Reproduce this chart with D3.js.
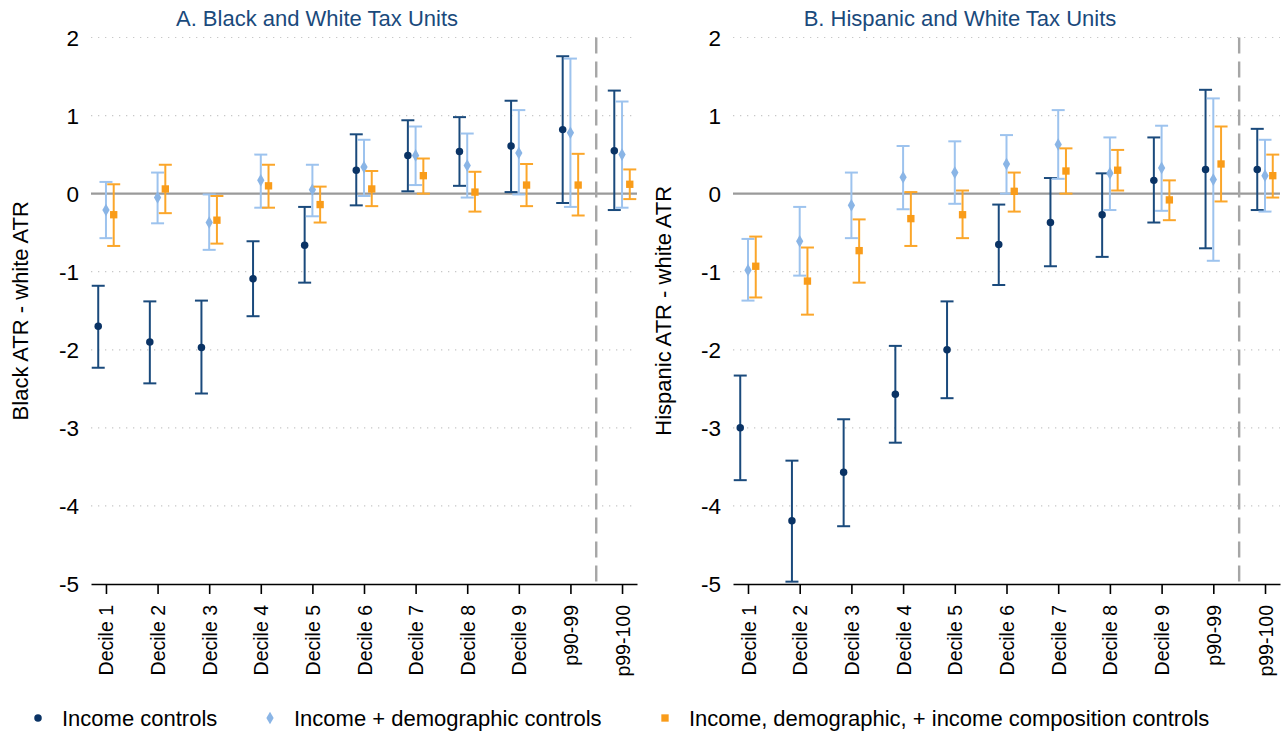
<!DOCTYPE html>
<html>
<head>
<meta charset="utf-8">
<script src="https://cdn.jsdelivr.net/npm/d3@7"></script>
<style>
  body { margin: 0; background: #fff; }
  svg text { font-family: "Liberation Sans", Arial, sans-serif; fill: #000; }
</style>
</head>
<body>
<svg id="chart" width="1286" height="732"></svg>
<script>
// categories on the x axis
const categories = ["Decile 1", "Decile 2", "Decile 3", "Decile 4", "Decile 5", "Decile 6",
  "Decile 7", "Decile 8", "Decile 9", "p90-99", "p99-100"];
const yTicks = [2, 1, 0, -1, -2, -3, -4, -5];

// Panel A: Black - white ATR
const blackInc   = [-1.70, -1.90, -1.97, -1.09, -0.66, 0.30, 0.49, 0.54, 0.61, 0.82, 0.55];
const blackIncLo = [-2.23, -2.43, -2.56, -1.57, -1.14, -0.15, 0.03, 0.10, 0.02, -0.12, -0.21];
const blackIncHi = [-1.18, -1.38, -1.37, -0.61, -0.17, 0.76, 0.94, 0.98, 1.19, 1.76, 1.32];
const blackDem   = [-0.21, -0.05, -0.37, 0.17, 0.05, 0.34, 0.49, 0.36, 0.52, 0.78, 0.50];
const blackDemLo = [-0.57, -0.38, -0.72, -0.18, -0.29, -0.03, 0.11, -0.05, -0.01, -0.17, -0.18];
const blackDemHi = [0.15, 0.27, -0.01, 0.50, 0.37, 0.69, 0.86, 0.77, 1.07, 1.73, 1.18];
const blackComp   = [-0.27, 0.06, -0.34, 0.10, -0.14, 0.06, 0.23, 0.02, 0.11, 0.11, 0.12];
const blackCompLo = [-0.67, -0.25, -0.64, -0.18, -0.37, -0.16, 0.00, -0.23, -0.16, -0.28, -0.07];
const blackCompHi = [0.12, 0.37, -0.03, 0.37, 0.09, 0.29, 0.45, 0.28, 0.38, 0.51, 0.31];

// Panel B: Hispanic - white ATR
const hispInc   = [-3.00, -4.19, -3.57, -2.57, -2.00, -0.65, -0.37, -0.27, 0.17, 0.31, 0.31];
const hispIncLo = [-3.67, -4.97, -4.26, -3.19, -2.62, -1.17, -0.93, -0.81, -0.37, -0.70, -0.21];
const hispIncHi = [-2.33, -3.42, -2.89, -1.95, -1.38, -0.14, 0.20, 0.26, 0.72, 1.33, 0.83];
const hispDem   = [-0.98, -0.61, -0.15, 0.21, 0.27, 0.38, 0.63, 0.26, 0.33, 0.18, 0.23];
const hispDemLo = [-1.37, -1.05, -0.57, -0.20, -0.13, 0.00, 0.19, -0.21, -0.22, -0.86, -0.23];
const hispDemHi = [-0.58, -0.17, 0.27, 0.61, 0.67, 0.75, 1.07, 0.72, 0.87, 1.22, 0.69];
const hispComp   = [-0.93, -1.12, -0.73, -0.32, -0.27, 0.03, 0.29, 0.30, -0.08, 0.38, 0.23];
const hispCompLo = [-1.33, -1.55, -1.14, -0.67, -0.57, -0.23, 0.00, 0.04, -0.34, -0.10, -0.05];
const hispCompHi = [-0.55, -0.69, -0.33, 0.02, 0.04, 0.27, 0.58, 0.56, 0.17, 0.86, 0.50];

const legendLabels = ["Income controls", "Income + demographic controls",
  "Income, demographic, + income composition controls"];

const seriesStyle = [
  { line: "#1a4a7c", fill: "#0a3365", shape: d3.symbolCircle, size: 44, off: -0.15 },
  { line: "#9dc3ee", fill: "#8ab5e6", shape: d3.symbolDiamond, size: 46, off: 0 },
  { line: "#fba62a", fill: "#f99c1a", shape: d3.symbolSquare, size: 54, off: 0.15 }
];

const svg = d3.select("#chart");
const y = d3.scaleLinear().domain([-5, 2]).range([584, 37.5]);

function drawPanel(opt) {
  const x = d3.scaleLinear().domain([-0.29, 10.29]).range(opt.range);
  const g = svg.append("g");
  const [x0, x1] = opt.range;

  // gridlines
  g.selectAll("line.grid")
    .data(yTicks.filter(d => d !== 0 && d !== -5))
    .enter().append("line")
    .attr("x1", x0).attr("x2", x1)
    .attr("y1", d => y(d)).attr("y2", d => y(d))
    .attr("stroke", "#c8c8c8").attr("stroke-width", 1.2)
    .attr("stroke-dasharray", "1.3,5.7");

  // zero line
  g.append("line")
    .attr("x1", x0).attr("x2", x1)
    .attr("y1", y(0)).attr("y2", y(0))
    .attr("stroke", "#9a9a9a").attr("stroke-width", 2.2);

  // dashed separator before the top percentile
  g.append("line")
    .attr("x1", x(9.5)).attr("x2", x(9.5))
    .attr("y1", y(2)).attr("y2", y(-5))
    .attr("stroke", "#a6a6a6").attr("stroke-width", 2.4)
    .attr("stroke-dasharray", "16,8");

  // y tick labels
  g.selectAll("text.ytick")
    .data(yTicks)
    .enter().append("text")
    .attr("x", x0 - 12).attr("y", d => y(d))
    .attr("dy", "0.36em")
    .attr("text-anchor", "end")
    .attr("font-size", 22.5)
    .text(d => d);

  // x axis
  const xAxis = d3.axisBottom(x)
    .tickValues(d3.range(categories.length))
    .tickFormat(i => categories[i])
    .tickSize(10)
    .tickSizeOuter(0);
  const ax = g.append("g")
    .attr("transform", `translate(0,${y(-5)})`)
    .call(xAxis);
  ax.select(".domain").attr("stroke", "#000").attr("stroke-width", 1.6);
  ax.selectAll(".tick line").attr("stroke", "#000").attr("stroke-width", 1.6);
  ax.selectAll(".tick text")
    .attr("font-size", 19.5)
    .attr("fill", "#000")
    .attr("transform", "rotate(-90)")
    .attr("text-anchor", "end")
    .attr("x", -21).attr("y", 0).attr("dy", "0.36em");

  // error bars + markers
  opt.series.forEach((s, si) => {
    const st = seriesStyle[si];
    const rows = s.est.map((v, i) => ({ i, v, lo: s.lo[i], hi: s.hi[i] }));
    const sg = g.append("g");
    const cx = d => x(d.i + st.off);
    sg.selectAll("line.bar").data(rows).enter().append("line")
      .attr("x1", cx).attr("x2", cx)
      .attr("y1", d => y(d.lo)).attr("y2", d => y(d.hi))
      .attr("stroke", st.line).attr("stroke-width", 2);
    ["lo", "hi"].forEach(k => {
      sg.selectAll("line.cap" + k).data(rows).enter().append("line")
        .attr("x1", d => cx(d) - 6.5).attr("x2", d => cx(d) + 6.5)
        .attr("y1", d => y(d[k])).attr("y2", d => y(d[k]))
        .attr("stroke", st.line).attr("stroke-width", 2);
    });
    sg.selectAll("path.pt").data(rows).enter().append("path")
      .attr("transform", d => `translate(${cx(d)},${y(d.v)})`)
      .attr("d", d3.symbol().type(st.shape).size(st.size))
      .attr("fill", st.fill);
  });

  // panel title
  svg.append("text")
    .attr("x", opt.titleX).attr("y", 26)
    .attr("text-anchor", "middle")
    .attr("font-size", 22)
    .style("fill", "#1a4a7c")
    .text(opt.title);

  // y axis title
  svg.append("text")
    .attr("transform", `translate(${opt.yTitleX},${y(-1.5)}) rotate(-90)`)
    .attr("text-anchor", "middle")
    .attr("font-size", 22)
    .text(opt.yTitle);
}

drawPanel({
  range: [91, 637],
  title: "A. Black and White Tax Units",
  titleX: 317,
  yTitle: "Black ATR - white ATR",
  yTitleX: 28,
  series: [
    { est: blackInc, lo: blackIncLo, hi: blackIncHi },
    { est: blackDem, lo: blackDemLo, hi: blackDemHi },
    { est: blackComp, lo: blackCompLo, hi: blackCompHi }
  ]
});

drawPanel({
  range: [733, 1280],
  title: "B. Hispanic and White Tax Units",
  titleX: 960,
  yTitle: "Hispanic ATR - white ATR",
  yTitleX: 671,
  series: [
    { est: hispInc, lo: hispIncLo, hi: hispIncHi },
    { est: hispDem, lo: hispDemLo, hi: hispDemHi },
    { est: hispComp, lo: hispCompLo, hi: hispCompHi }
  ]
});

// legend
const legendX = [38, 270, 665];
const lg = svg.append("g").attr("transform", "translate(0,718)");
legendLabels.forEach((lab, i) => {
  const st = seriesStyle[i];
  lg.append("path")
    .attr("transform", `translate(${legendX[i]},0)`)
    .attr("d", d3.symbol().type(st.shape).size(st.size))
    .attr("fill", st.fill);
  lg.append("text")
    .attr("x", legendX[i] + 24).attr("y", 0)
    .attr("dy", "0.36em")
    .attr("font-size", 22)
    .text(lab);
});
</script>
</body>
</html>
